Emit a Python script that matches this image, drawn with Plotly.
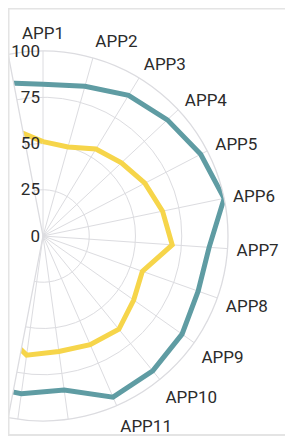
import math
import plotly.graph_objects as go

categories = [f"APP{i}" for i in range(1, 24)]
series_teal = [82, 84, 89, 92, 96, 100, 90, 89, 92, 94, 95, 84, 86,
               88, 85, 90, 87, 92, 89, 86, 84, 88, 86]
series_yellow = [51, 50, 55, 58, 62, 66, 70, 57, 60, 65, 64, 63, 65,
                 56, 58, 55, 60, 62, 58, 57, 59, 61, 60]
radial_ticks = [0, 25, 50, 75, 100]
visible_labels = categories[:11]  # labels that fall inside the card

# figure coordinates (page body adds an 8px offset)
W, H = 293, 436
cx, cy, R = 35, 228, 185
half = 90 + math.degrees(math.asin(cx / R)) - 0.05
left_ext = R * math.sin(math.radians(half - 90))
x0, x1 = (cx - left_ext) / W, (cx + R) / W
y0, y1 = (H - (cy + R)) / H, (H - (cy - R)) / H

fig = go.Figure()
for vals, col in [(series_yellow, "#f6d54a"), (series_teal, "#5f9ca3")]:
    fig.add_trace(go.Scatterpolar(
        r=vals + vals[:1], theta=categories + categories[:1],
        mode="lines", line=dict(color=col, width=5), hoverinfo="skip",
        showlegend=False))

grid = "#dcdce0"
fig.update_layout(
    width=W, height=H, margin=dict(l=0, r=0, t=0, b=0),
    paper_bgcolor="white", plot_bgcolor="white",
    font=dict(family="Roboto, Liberation Sans, sans-serif", size=17, color="#2b2b2b"),
    polar=dict(
        domain=dict(x=[max(x0, 0), x1], y=[y0, y1]),
        sector=[-half, half],
        bgcolor="white",
        angularaxis=dict(direction="clockwise", rotation=90,
                         categoryorder="array", categoryarray=categories,
                         tickmode="array", tickvals=categories,
                         ticktext=[c if c in visible_labels else "" for c in categories],
                         gridcolor=grid, gridwidth=1.3,
                         showline=True, linecolor=grid, linewidth=1.3,
                         ticks="outside", ticklen=5, tickcolor="rgba(0,0,0,0)",
                         tickfont=dict(size=17, color="#2b2b2b")),
        radialaxis=dict(range=[0, 100], tickvals=radial_ticks, angle=90,
                        tickangle=90,
                        side="counterclockwise", showline=False,
                        gridcolor=grid, gridwidth=1.3, ticks="",
                        tickfont=dict(size=17, color="#2b2b2b")),
    ),
    shapes=[dict(type="rect", xref="paper", yref="paper",
                 x0=0.5 / W, x1=1.1, y0=(H - 427) / H, y1=(H - 0.5) / H,
                 line=dict(color="#e4e4e4", width=2), layer="above")],
)
fig.write_html("out.html")
